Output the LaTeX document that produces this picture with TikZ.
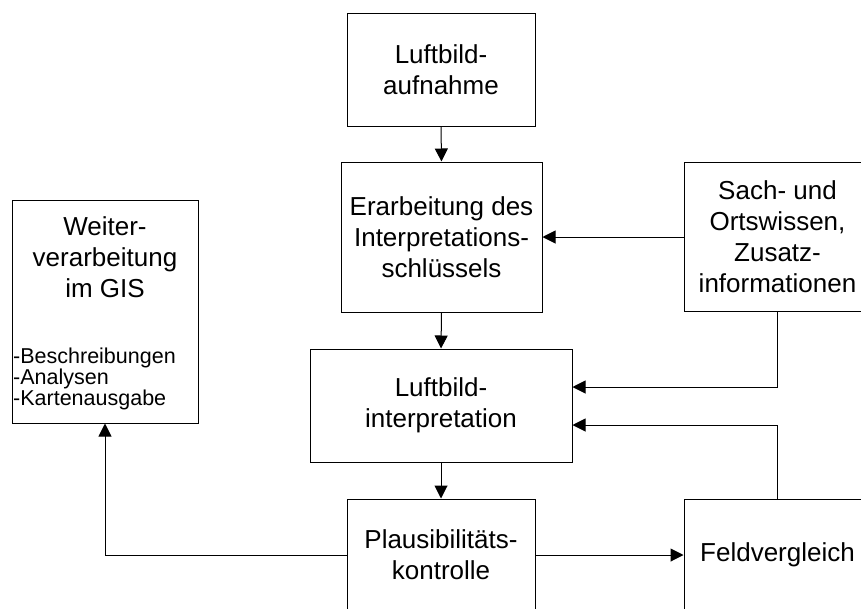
\documentclass[tikz,border=0pt]{standalone}
\usepackage{fontspec}
\setmainfont{Liberation Sans}
\usetikzlibrary{arrows.meta}
\begin{document}
\begin{tikzpicture}[x=1pt,y=-1pt,
  box/.style={draw=black,line width=1pt,inner sep=0pt,align=center,
    font=\fontsize{26}{31}\selectfont},
  label/.style={inner sep=0pt,align=center,font=\fontsize{26}{31}\selectfont},
  listtext/.style={inner sep=0pt,align=left,font=\fontsize{21.5}{21}\selectfont},
  flow/.style={draw=black,line width=1pt,-{Triangle[length=13pt,width=13pt]}},
]
\useasboundingbox (0,0) rectangle (861,608);
\clip (0,0) rectangle (861,608);

% process boxes
\node[box,minimum width=188pt,minimum height=113pt] (aufnahme) at (441,69.5)
  {Luftbild-\\aufnahme};
\node[box,minimum width=201pt,minimum height=150pt] (schluessel) at (441.5,237)
  {Erarbeitung des\\Interpretations-\\schlüssels};
\node[box,minimum width=262pt,minimum height=113pt] (interp) at (441,405.5)
  {Luftbild-\\interpretation};
\node[box,minimum width=188pt,minimum height=112pt] (plaus) at (441,555)
  {Plausibilitäts-\\kontrolle};
\node[box,minimum width=187pt,minimum height=112pt] (feld) at (777.5,555)
  {Feldvergleich};
\node[box,minimum width=187pt,minimum height=149pt] (wissen) at (777.5,237)
  {Sach- und\\Ortswissen,\\Zusatz-\\informationen};

% GIS box with heading and item list
\node[box,minimum width=186pt,minimum height=223pt] (gis) at (105,311.5) {};
\node[label] (gistitle) at (105,257.5) {Weiter-\\verarbeitung\\im GIS};
\node[listtext,anchor=west] (gislist) at (13,378.5)
  {-Beschreibungen\\-Analysen\\-Kartenausgabe};

% helper points for the elbow connectors
\coordinate (wk) at (777.5,387);
\coordinate (fk) at (777.5,425);
\coordinate (gk) at (105,555);

% connectors
\draw[flow] (aufnahme.south) -- (schluessel.north);
\draw[flow] (wissen.west) -- (schluessel.east);
\draw[flow] (schluessel.south) -- (interp.north);
\draw[flow] (wissen.south) -- (wk) -- (interp.east |- wk);
\draw[flow] (feld.north) -- (fk) -- (interp.east |- fk);
\draw[flow] (interp.south) -- (plaus.north);
\draw[flow] (plaus.east) -- (feld.west);
\draw[flow] (plaus.west) -- (gk) -- (gis.south);
\end{tikzpicture}
\end{document}
